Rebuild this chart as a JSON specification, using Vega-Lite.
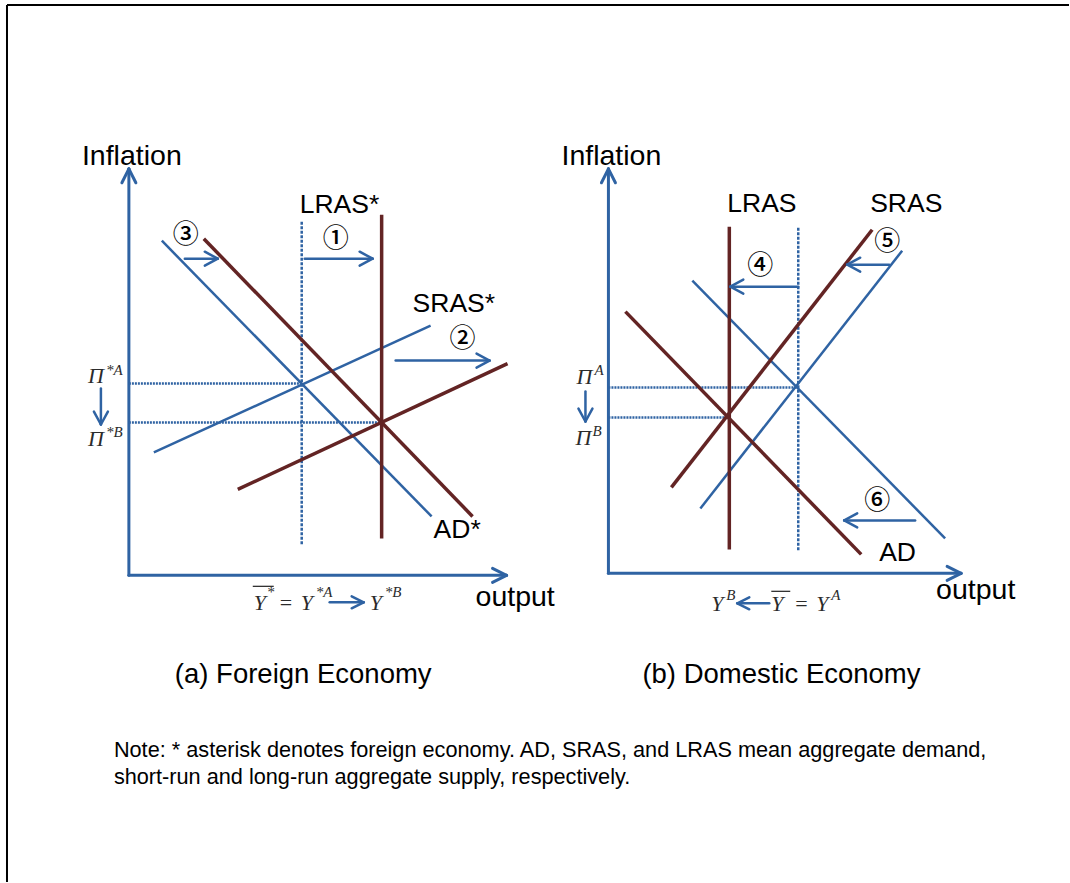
{
  "$schema": "https://vega.github.io/schema/vega-lite/v6.json",
  "width": 1070,
  "height": 883,
  "autosize": {"type": "fit", "contains": "padding"},
  "padding": 0,
  "background": "white",
  "config": {"view": {"stroke": null}},
  "datasets": {
    "segs": [
      {"x": 7, "y": 5, "x2": 1070, "y2": 5, "g": "frame"},
      {"x": 7, "y": 5, "x2": 7, "y2": 883, "g": "frame"},

      {"x": 129, "y": 169, "x2": 129, "y2": 576, "g": "axis"},
      {"x": 129, "y": 576, "x2": 507, "y2": 576, "g": "axis"},
      {"x": 129, "y": 169, "x2": 122, "y2": 183, "g": "axis"},
      {"x": 129, "y": 169, "x2": 136, "y2": 183, "g": "axis"},
      {"x": 507, "y": 576, "x2": 493, "y2": 569, "g": "axis"},
      {"x": 507, "y": 576, "x2": 493, "y2": 583, "g": "axis"},
      {"x": 609, "y": 169, "x2": 609, "y2": 574, "g": "axis"},
      {"x": 609, "y": 574, "x2": 962, "y2": 574, "g": "axis"},
      {"x": 609, "y": 169, "x2": 602, "y2": 183, "g": "axis"},
      {"x": 609, "y": 169, "x2": 616, "y2": 183, "g": "axis"},
      {"x": 962, "y": 574, "x2": 948, "y2": 567, "g": "axis"},
      {"x": 962, "y": 574, "x2": 948, "y2": 581, "g": "axis"},

      {"x": 162, "y": 241, "x2": 432, "y2": 517, "g": "initial"},
      {"x": 154, "y": 453, "x2": 431, "y2": 326, "g": "initial"},
      {"x": 693, "y": 281, "x2": 946, "y2": 539, "g": "initial"},
      {"x": 903, "y": 251, "x2": 701, "y2": 509, "g": "initial"},

      {"x": 302, "y": 222, "x2": 302, "y2": 546, "g": "lras0"},
      {"x": 799, "y": 228, "x2": 799, "y2": 551, "g": "lras0"},

      {"x": 129, "y": 384, "x2": 302, "y2": 384, "g": "guide"},
      {"x": 129, "y": 423, "x2": 382, "y2": 423, "g": "guide"},
      {"x": 609, "y": 388, "x2": 799, "y2": 388, "g": "guide"},
      {"x": 609, "y": 418, "x2": 730, "y2": 418, "g": "guide"},

      {"x": 382, "y": 215, "x2": 382, "y2": 539, "g": "shifted"},
      {"x": 204, "y": 239, "x2": 473, "y2": 517, "g": "shifted"},
      {"x": 238, "y": 490, "x2": 508, "y2": 364, "g": "shifted"},
      {"x": 730, "y": 227, "x2": 730, "y2": 550, "g": "shifted"},
      {"x": 873, "y": 230, "x2": 672, "y2": 488, "g": "shifted"},
      {"x": 626, "y": 312, "x2": 862, "y2": 555, "g": "shifted"},

      {"x": 305, "y": 259, "x2": 373, "y2": 259, "g": "shift"},
      {"x": 373, "y": 259, "x2": 360, "y2": 252, "g": "shift"},
      {"x": 373, "y": 259, "x2": 360, "y2": 266, "g": "shift"},
      {"x": 185, "y": 259, "x2": 218, "y2": 259, "g": "shift"},
      {"x": 218, "y": 259, "x2": 205, "y2": 252, "g": "shift"},
      {"x": 218, "y": 259, "x2": 205, "y2": 266, "g": "shift"},
      {"x": 396, "y": 361, "x2": 490, "y2": 361, "g": "shift"},
      {"x": 490, "y": 361, "x2": 477, "y2": 354, "g": "shift"},
      {"x": 490, "y": 361, "x2": 477, "y2": 368, "g": "shift"},
      {"x": 799, "y": 287, "x2": 731, "y2": 287, "g": "shift"},
      {"x": 731, "y": 287, "x2": 744, "y2": 280, "g": "shift"},
      {"x": 731, "y": 287, "x2": 744, "y2": 294, "g": "shift"},
      {"x": 890, "y": 265, "x2": 848, "y2": 265, "g": "shift"},
      {"x": 848, "y": 265, "x2": 861, "y2": 258, "g": "shift"},
      {"x": 848, "y": 265, "x2": 861, "y2": 272, "g": "shift"},
      {"x": 916, "y": 521, "x2": 845, "y2": 521, "g": "shift"},
      {"x": 845, "y": 521, "x2": 858, "y2": 514, "g": "shift"},
      {"x": 845, "y": 521, "x2": 858, "y2": 528, "g": "shift"},
      {"x": 101, "y": 389, "x2": 101, "y2": 425, "g": "shift"},
      {"x": 101, "y": 425, "x2": 94, "y2": 412, "g": "shift"},
      {"x": 101, "y": 425, "x2": 108, "y2": 412, "g": "shift"},
      {"x": 586, "y": 392, "x2": 586, "y2": 422, "g": "shift"},
      {"x": 586, "y": 422, "x2": 579, "y2": 409, "g": "shift"},
      {"x": 586, "y": 422, "x2": 593, "y2": 409, "g": "shift"},
      {"x": 330, "y": 603, "x2": 364, "y2": 603, "g": "shift"},
      {"x": 364, "y": 603, "x2": 352, "y2": 597, "g": "shift"},
      {"x": 364, "y": 603, "x2": 352, "y2": 609, "g": "shift"},
      {"x": 770, "y": 604, "x2": 738, "y2": 604, "g": "shift"},
      {"x": 738, "y": 604, "x2": 750, "y2": 598, "g": "shift"},
      {"x": 738, "y": 604, "x2": 750, "y2": 610, "g": "shift"},

      {"x": 253, "y": 587, "x2": 274, "y2": 587, "g": "ovl"},
      {"x": 772, "y": 592, "x2": 791, "y2": 592, "g": "ovl"}
    ],
    "texts": [
      {"x": 82, "y": 165, "text": "Inflation", "g": "big"},
      {"x": 562, "y": 165, "text": "Inflation", "g": "big"},
      {"x": 300, "y": 213, "text": "LRAS*", "g": "label"},
      {"x": 413, "y": 312, "text": "SRAS*", "g": "label"},
      {"x": 434, "y": 539, "text": "AD*", "g": "label"},
      {"x": 476, "y": 607, "text": "output", "g": "big"},
      {"x": 728, "y": 212, "text": "LRAS", "g": "label"},
      {"x": 871, "y": 212, "text": "SRAS", "g": "label"},
      {"x": 880, "y": 562, "text": "AD", "g": "label"},
      {"x": 937, "y": 600, "text": "output", "g": "big"},
      {"x": 175, "y": 684, "text": "(a) Foreign Economy", "g": "caption"},
      {"x": 643, "y": 684, "text": "(b) Domestic Economy", "g": "caption"},

      {"x": 186, "y": 235, "text": "③", "g": "circ"},
      {"x": 336, "y": 239, "text": "①", "g": "circ"},
      {"x": 463, "y": 339, "text": "②", "g": "circ"},
      {"x": 761, "y": 266, "text": "④", "g": "circ"},
      {"x": 888, "y": 242, "text": "⑤", "g": "circ"},
      {"x": 878, "y": 502, "text": "⑥", "g": "circ"},

      {"x": 88, "y": 383, "text": "Π", "g": "math"},
      {"x": 106, "y": 375, "text": "*A", "g": "sup"},
      {"x": 88, "y": 447, "text": "Π", "g": "math"},
      {"x": 106, "y": 437, "text": "*B", "g": "sup"},
      {"x": 577, "y": 384, "text": "Π", "g": "math"},
      {"x": 595, "y": 375, "text": "A", "g": "sup"},
      {"x": 576, "y": 446, "text": "Π", "g": "math"},
      {"x": 593, "y": 436, "text": "B", "g": "sup"},

      {"x": 254, "y": 611, "text": "Y", "g": "math"},
      {"x": 267, "y": 598, "text": "*", "g": "sup"},
      {"x": 280, "y": 611, "text": "=", "g": "eq"},
      {"x": 301, "y": 611, "text": "Y", "g": "math"},
      {"x": 316, "y": 598, "text": "*A", "g": "sup"},
      {"x": 370, "y": 611, "text": "Y", "g": "math"},
      {"x": 385, "y": 598, "text": "*B", "g": "sup"},

      {"x": 712, "y": 612, "text": "Y", "g": "math"},
      {"x": 727, "y": 601, "text": "B", "g": "sup"},
      {"x": 772, "y": 612, "text": "Y", "g": "math"},
      {"x": 796, "y": 612, "text": "=", "g": "eq"},
      {"x": 817, "y": 612, "text": "Y", "g": "math"},
      {"x": 832, "y": 601, "text": "A", "g": "sup"},

      {"x": 114, "y": 758, "text": "Note: * asterisk denotes foreign economy. AD, SRAS, and LRAS mean aggregate demand,", "g": "note"},
      {"x": 114, "y": 785, "text": "short-run and long-run aggregate supply, respectively.", "g": "note"}
    ]
  },
  "encoding": {
    "x": {"field": "x", "type": "quantitative", "scale": {"domain": [0, 1070], "nice": false, "zero": false}, "axis": null},
    "y": {"field": "y", "type": "quantitative", "scale": {"domain": [0, 883], "reverse": true, "nice": false, "zero": false}, "axis": null}
  },
  "layer": [
    {"data": {"name": "segs"}, "transform": [{"filter": "datum.g === 'frame'"}],
     "mark": {"type": "rule", "color": "#000000", "strokeWidth": 2},
     "encoding": {"x2": {"field": "x2"}, "y2": {"field": "y2"}}},
    {"data": {"name": "segs"}, "transform": [{"filter": "datum.g === 'axis'"}],
     "mark": {"type": "rule", "color": "#2F63A3", "strokeWidth": 3, "strokeCap": "round"},
     "encoding": {"x2": {"field": "x2"}, "y2": {"field": "y2"}}},
    {"data": {"name": "segs"}, "transform": [{"filter": "datum.g === 'initial'"}],
     "mark": {"type": "rule", "color": "#2F63A3", "strokeWidth": 2.5},
     "encoding": {"x2": {"field": "x2"}, "y2": {"field": "y2"}}},
    {"data": {"name": "segs"}, "transform": [{"filter": "datum.g === 'lras0'"}],
     "mark": {"type": "rule", "color": "#2F63A3", "strokeWidth": 2.5, "strokeDash": [3, 1.5]},
     "encoding": {"x2": {"field": "x2"}, "y2": {"field": "y2"}}},
    {"data": {"name": "segs"}, "transform": [{"filter": "datum.g === 'guide'"}],
     "mark": {"type": "rule", "color": "#2F63A3", "strokeWidth": 2.5, "strokeDash": [2, 1]},
     "encoding": {"x2": {"field": "x2"}, "y2": {"field": "y2"}}},
    {"data": {"name": "segs"}, "transform": [{"filter": "datum.g === 'shifted'"}],
     "mark": {"type": "rule", "color": "#632424", "strokeWidth": 3.5},
     "encoding": {"x2": {"field": "x2"}, "y2": {"field": "y2"}}},
    {"data": {"name": "segs"}, "transform": [{"filter": "datum.g === 'shift'"}],
     "mark": {"type": "rule", "color": "#2F63A3", "strokeWidth": 2.5, "strokeCap": "round"},
     "encoding": {"x2": {"field": "x2"}, "y2": {"field": "y2"}}},
    {"data": {"name": "segs"}, "transform": [{"filter": "datum.g === 'ovl'"}],
     "mark": {"type": "rule", "color": "#333333", "strokeWidth": 1.3},
     "encoding": {"x2": {"field": "x2"}, "y2": {"field": "y2"}}},
    {"data": {"name": "texts"}, "transform": [{"filter": "datum.g === 'label'"}],
     "mark": {"type": "text", "font": "Liberation Sans", "fontSize": 26.5, "align": "left", "baseline": "alphabetic", "color": "#000000"},
     "encoding": {"text": {"field": "text"}}},
    {"data": {"name": "texts"}, "transform": [{"filter": "datum.g === 'big'"}],
     "mark": {"type": "text", "font": "Liberation Sans", "fontSize": 28.5, "align": "left", "baseline": "alphabetic", "color": "#000000"},
     "encoding": {"text": {"field": "text"}}},
    {"data": {"name": "texts"}, "transform": [{"filter": "datum.g === 'caption'"}],
     "mark": {"type": "text", "font": "Liberation Sans", "fontSize": 27.5, "align": "left", "baseline": "alphabetic", "color": "#000000"},
     "encoding": {"text": {"field": "text"}}},
    {"data": {"name": "texts"}, "transform": [{"filter": "datum.g === 'circ'"}],
     "mark": {"type": "text", "font": "Noto Sans CJK KR", "fontSize": 26, "fontWeight": 500, "align": "center", "baseline": "middle", "color": "#000000"},
     "encoding": {"text": {"field": "text"}}},
    {"data": {"name": "texts"}, "transform": [{"filter": "datum.g === 'math'"}],
     "mark": {"type": "text", "font": "Liberation Serif", "fontStyle": "italic", "fontSize": 22, "align": "left", "baseline": "alphabetic", "color": "#2B2B2B"},
     "encoding": {"text": {"field": "text"}}},
    {"data": {"name": "texts"}, "transform": [{"filter": "datum.g === 'sup'"}],
     "mark": {"type": "text", "font": "Liberation Serif", "fontStyle": "italic", "fontSize": 15, "align": "left", "baseline": "alphabetic", "color": "#2B2B2B"},
     "encoding": {"text": {"field": "text"}}},
    {"data": {"name": "texts"}, "transform": [{"filter": "datum.g === 'eq'"}],
     "mark": {"type": "text", "font": "Liberation Serif", "fontSize": 22, "align": "left", "baseline": "alphabetic", "color": "#2B2B2B"},
     "encoding": {"text": {"field": "text"}}},
    {"data": {"name": "texts"}, "transform": [{"filter": "datum.g === 'note'"}],
     "mark": {"type": "text", "font": "Liberation Sans", "fontSize": 21.7, "align": "left", "baseline": "alphabetic", "color": "#000000"},
     "encoding": {"text": {"field": "text"}}}
  ]
}
